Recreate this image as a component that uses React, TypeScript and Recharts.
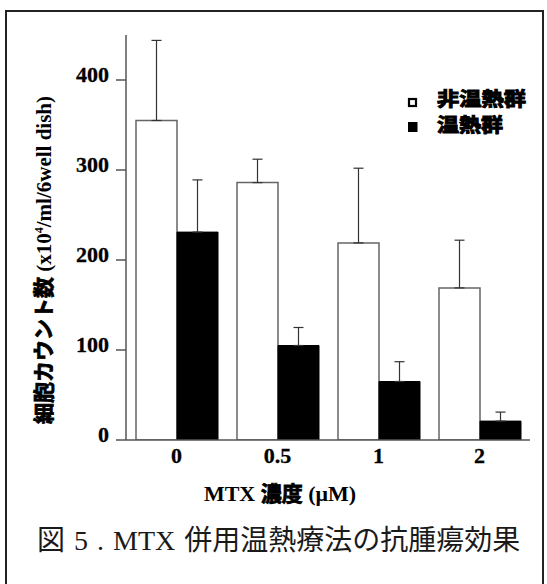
import React from 'react';
import { BarChart, Bar, XAxis, YAxis, ErrorBar } from 'recharts';

const categories = ['0', '0.5', '1', '2'];
const nonHeatValues = [355, 286, 219, 169];
const nonHeatErrors = [89, 26, 83, 53];
const heatValues = [231, 105, 65, 21];
const heatErrors = [58, 20, 22, 10];
const yTicks = [0, 100, 200, 300, 400];
const legendLabels = ['非温熱群', '温熱群'];

const data = categories.map((c, i) => ({
  dose: c,
  nonHeat: nonHeatValues[i],
  nonHeatErr: [0, nonHeatErrors[i]],
  heat: heatValues[i],
  heatErr: [0, heatErrors[i]],
}));

const SERIF = "'Liberation Serif', 'Times New Roman', serif";
const CJK = "'Noto Sans CJK JP', sans-serif";

const YTick = (props: any) => {
  const { x, y, payload } = props;
  return (
    <text x={x} y={y + 2} textAnchor="end" fontFamily={SERIF} fontWeight="bold" fontSize={22} fill="#000" stroke="#000" strokeWidth={0.3}>
      {payload.value}
    </text>
  );
};

const XTick = (props: any) => {
  const { x, y, payload } = props;
  return (
    <text x={x} y={y + 15} textAnchor="middle" fontFamily={SERIF} fontWeight="bold" fontSize={22} fill="#000" stroke="#000" strokeWidth={0.3}>
      {payload.value}
    </text>
  );
};

const YLabel = () => (
  <text
    x={51}
    y={260}
    transform="rotate(-90 51 260)"
    textAnchor="middle"
    fontSize={21}
    fontWeight="bold"
    fill="#000"
  >
    <tspan fontFamily={CJK} stroke="#000" strokeWidth={0.8}>細胞カウント数</tspan>
    <tspan fontFamily={SERIF}> (x10</tspan>
    <tspan fontFamily={SERIF} fontSize={12} dy={-8}>4</tspan>
    <tspan fontFamily={SERIF} dy={8}>/ml/6well dish)</tspan>
  </text>
);

const XLabelAndExtras = () => (
  <g>
    <text x={280} y={501} textAnchor="middle" fontSize={22} fontWeight="bold" fill="#000">
      <tspan fontFamily={SERIF}>MTX </tspan>
      <tspan fontFamily={CJK} stroke="#000" strokeWidth={0.8} fontSize={21}>濃度</tspan>
      <tspan fontFamily={SERIF}> (μM)</tspan>
    </text>
    <g>
      <rect x={409} y={99} width={7} height={7} fill="#fff" stroke="#000" strokeWidth={2.2} />
      <text x={437} y={106} textLength={89} lengthAdjust="spacingAndGlyphs" fontFamily={CJK} fontWeight="bold" fontSize={19} stroke="#000" strokeWidth={1} fill="#000">
        {legendLabels[0]}
      </text>
      <rect x={408} y={122} width={9.5} height={10} fill="#000" />
      <text x={437} y={132} textLength={66} lengthAdjust="spacingAndGlyphs" fontFamily={CJK} fontWeight="bold" fontSize={19} stroke="#000" strokeWidth={1} fill="#000">
        {legendLabels[1]}
      </text>
    </g>
    <text x={37} y={550} fontSize={28} fill="#1a1a1a" wordSpacing={2}>
      <tspan fontFamily={CJK}>図</tspan>
      <tspan fontFamily={SERIF}> 5 . MTX </tspan>
      <tspan fontFamily={CJK}>併用温熱療法の抗腫瘍効果</tspan>
    </text>
  </g>
);

export default function App() {
  return (
    <div style={{ position: 'absolute', left: 0, top: 0, width: 547, height: 584, overflow: 'hidden', background: '#fff' }}>
      <div
        style={{
          position: 'absolute',
          left: 5,
          top: 10,
          width: 539,
          height: 600,
          border: '2px solid #222',
          boxSizing: 'border-box',
        }}
      />
      <div style={{ position: 'absolute', left: 0, top: 0 }}>
        <BarChart
          width={547}
          height={584}
          data={data}
          margin={{ top: 35, right: 17, left: 0, bottom: 0 }}
          barCategoryGap={9}
          barGap={0}
        >
          <XAxis
            dataKey="dose"
            height={144}
            tickLine={false}
            tickSize={0}
            tickMargin={8}
            axisLine={{ stroke: '#555', strokeWidth: 1.5 }}
            tick={<XTick />}
            interval={0}
            label={<XLabelAndExtras />}
          />
          <YAxis
            width={126}
            domain={[0, 450]}
            ticks={yTicks}
            allowDataOverflow
            tickSize={10}
            tickMargin={7}
            tickLine={{ stroke: '#555', strokeWidth: 1.5 }}
            axisLine={{ stroke: '#555', strokeWidth: 1.5 }}
            tick={<YTick />}
            label={<YLabel />}
          />
          <Bar dataKey="nonHeat" fill="#fff" stroke="#666" strokeWidth={1.5} barSize={41} isAnimationActive={false}>
            <ErrorBar dataKey="nonHeatErr" width={5} stroke="#333" strokeWidth={1.2} direction="y" isAnimationActive={false} />
          </Bar>
          <Bar dataKey="heat" fill="#000" stroke="#000" strokeWidth={1} barSize={41} isAnimationActive={false}>
            <ErrorBar dataKey="heatErr" width={5} stroke="#333" strokeWidth={1.2} direction="y" isAnimationActive={false} />
          </Bar>
        </BarChart>
      </div>
    </div>
  );
}
